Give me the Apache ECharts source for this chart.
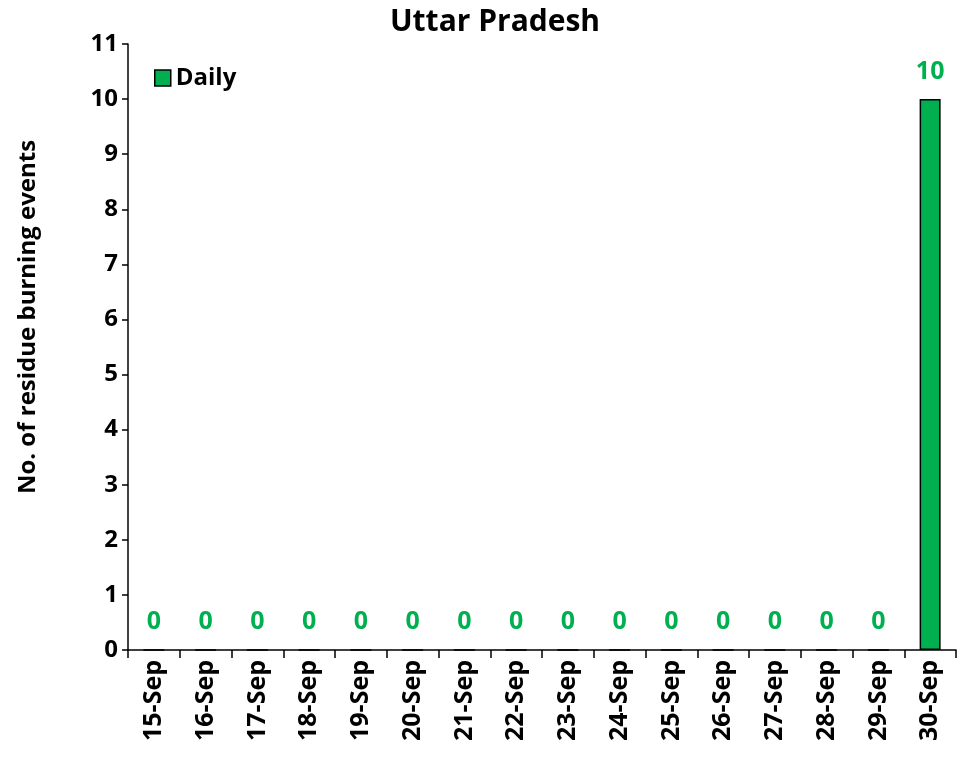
<!DOCTYPE html>
<html><head><meta charset="utf-8">
<script src="https://cdn.jsdelivr.net/npm/echarts@6/dist/echarts.min.js"></script>
<style>html,body{margin:0;padding:0;background:#fff}#c{width:971px;height:763px}</style>
</head><body><div id="c"></div>
<script>
const categories = ["15-Sep","16-Sep","17-Sep","18-Sep","19-Sep","20-Sep","21-Sep","22-Sep","23-Sep","24-Sep","25-Sep","26-Sep","27-Sep","28-Sep","29-Sep","30-Sep"];
const daily = [0,0,0,0,0,0,0,0,0,0,0,0,0,0,0,10];
const yTicks = [0,1,2,3,4,5,6,7,8,9,10,11];
const FONT = "Open Sans";
const GREEN = "#00B050";
const chart = echarts.init(document.getElementById('c'), null, {renderer:'canvas'});
chart.setOption({
  animation:false,
  textStyle:{fontFamily:FONT},
  title:{text:"Uttar Pradesh", left:490, top:2, textAlign:'center',
    textStyle:{fontFamily:FONT, fontWeight:'bold', fontSize:30, color:'#000'}},
  legend:{data:[{name:"Daily", icon:'rect'}], left:149, top:61, itemWidth:16, itemHeight:16, itemGap:6,
    itemStyle:{borderColor:'#000', borderWidth:1.5},
    textStyle:{fontFamily:FONT, fontWeight:'bold', fontSize:24, color:'#000'}},
  grid:{left:128, right:15, top:44, bottom:113},
  xAxis:{type:'category', data:categories, boundaryGap:true,
    axisLine:{lineStyle:{color:'#000', width:1.5}},
    axisTick:{show:true, length:8, inside:false, lineStyle:{color:'#000', width:1.5}},
    axisLabel:{rotate:90, fontFamily:FONT, fontWeight:'bold', fontSize:25, color:'#000', margin:10, interval:0}},
  yAxis:{type:'value', min:yTicks[0], max:yTicks[yTicks.length-1], interval:1,
    splitLine:{show:false},
    axisLine:{show:true, lineStyle:{color:'#000', width:1.5}},
    axisTick:{show:true, length:6, lineStyle:{color:'#000', width:1.5}},
    axisLabel:{fontFamily:FONT, fontWeight:'bold', fontSize:24, color:'#000', margin:10}},
  graphic:[{type:'text', x:28, y:317, rotation:Math.PI/2,
    style:{text:"No. of residue burning events", fontFamily:FONT, fontWeight:'bold', fontSize:24, fill:'#000', align:'center', verticalAlign:'middle'}}],
  series:[{name:"Daily", type:'bar', data:daily, barWidth:21,
    itemStyle:{color:GREEN, borderColor:'#000', borderWidth:1.5},
    label:{show:true, position:'top', distance:15, fontFamily:FONT, fontWeight:'bold', fontSize:25, color:GREEN}}]
});
</script></body></html>
